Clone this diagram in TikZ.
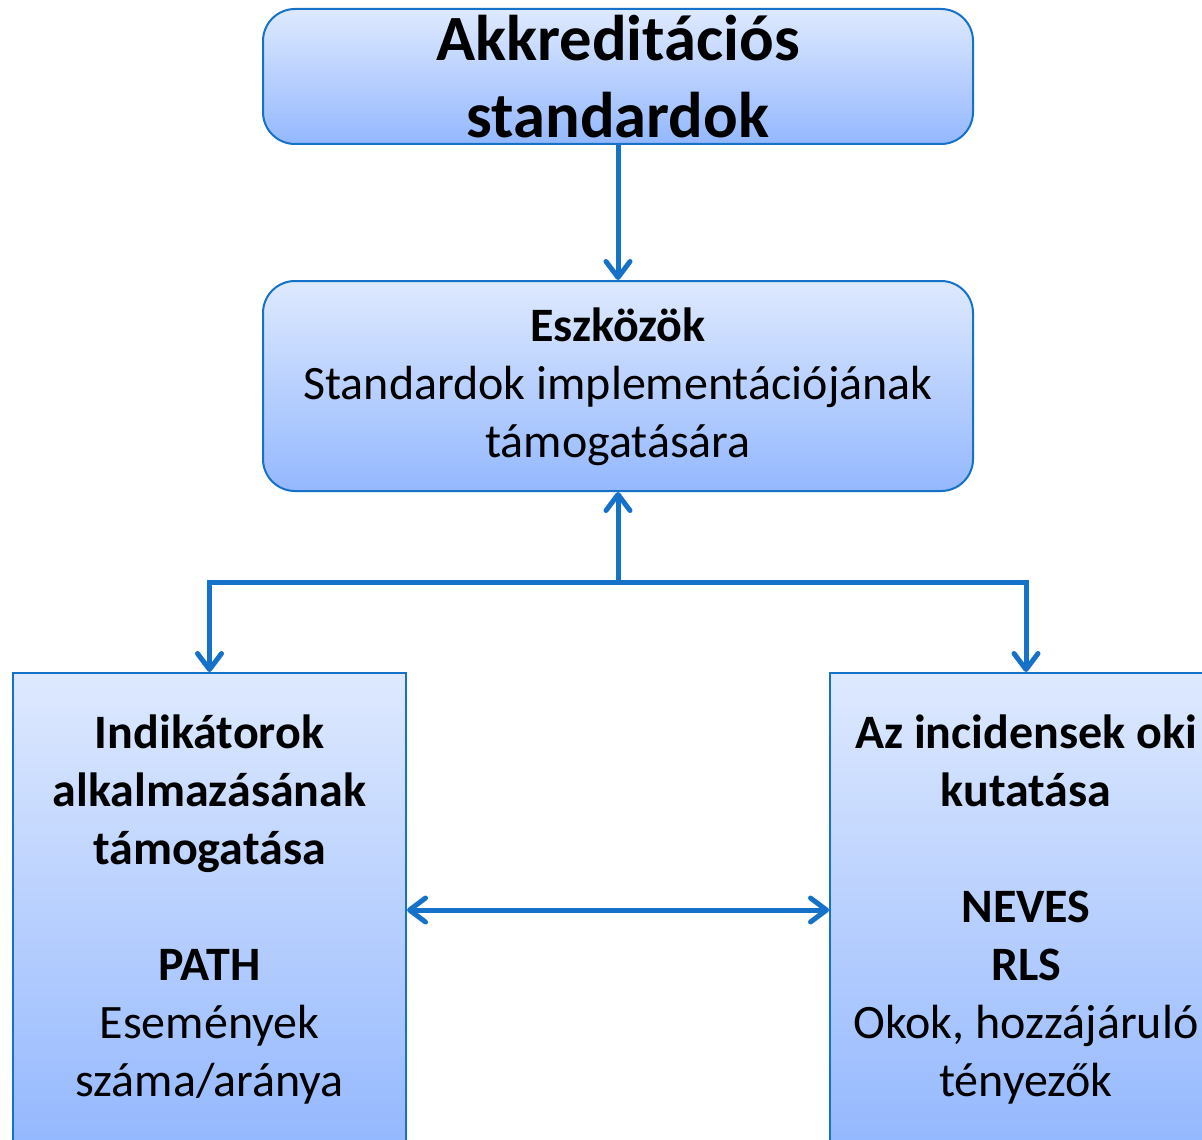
\documentclass[tikz,border=0pt]{standalone}
\usepackage{fontspec}
\setmainfont{Carlito}
\usetikzlibrary{arrows.meta}
\definecolor{lineColor}{RGB}{22,113,200}
\definecolor{boxTop}{RGB}{222,233,254}
\definecolor{boxBottom}{RGB}{148,184,254}
\tikzstyle{pixels} = [x = .5pt, y = -.5pt]
\tikzstyle{boxStyle} = [draw=lineColor, line width=1pt, top color=boxTop, bottom color=boxBottom, align=center, inner sep=0pt, font=\bodyFont]
\tikzstyle{roundBox} = [boxStyle, rounded corners = 16pt]
\tikzstyle{linkLine} = [color=lineColor, line width=2.5pt, >={Straight Barb[round, length=8pt, width=12pt]}]
\newcommand{\titleFont}{\fontsize{32.3}{38.5}\selectfont\bfseries}
\newcommand{\bodyFont}{\fontsize{24}{29}\selectfont}

\begin{document}
\begin{tikzpicture}[pixels]
      \useasboundingbox (0,0) rectangle (1202,1139);
      \clip (0,0) rectangle (1202,1139);

      \node [roundBox, font=\titleFont, minimum width = 355pt, minimum height = 67.5pt] (akkr) at (618, 76.5)
        {Akkreditációs\\ standardok};
      \node [roundBox, minimum width = 355pt, minimum height = 105pt, text depth = 3pt] (eszk) at (618, 386)
        {\textbf{Eszközök}\\ Standardok implementációjának\\ támogatására};

      \node [boxStyle, minimum width = 196.5pt, minimum height = 237pt] (indik) at (209.5, 910)
        {\textbf{Indikátorok}\\ \textbf{alkalmazásának}\\ \textbf{támogatása}\\[29pt]
         \textbf{PATH}\\ Események\\ száma/aránya};
      \node [boxStyle, minimum width = 196pt, minimum height = 237pt] (okok) at (1026, 910)
        {\textbf{Az incidensek oki}\\ \textbf{kutatása}\\[29pt]
         \textbf{NEVES}\\ \textbf{RLS}\\ Okok, hozzájáruló\\ tényezők};

      \coordinate (split) at (618, 582);

      \draw [linkLine, ->] (akkr) -- (eszk);
      \draw [linkLine, ->] (split) -- (eszk);
      \draw [linkLine, ->] (split) -| (indik);
      \draw [linkLine, ->] (split) -| (okok);
      \draw [linkLine, <->] (indik) -- (okok);
    \end{tikzpicture}
\end{document}
